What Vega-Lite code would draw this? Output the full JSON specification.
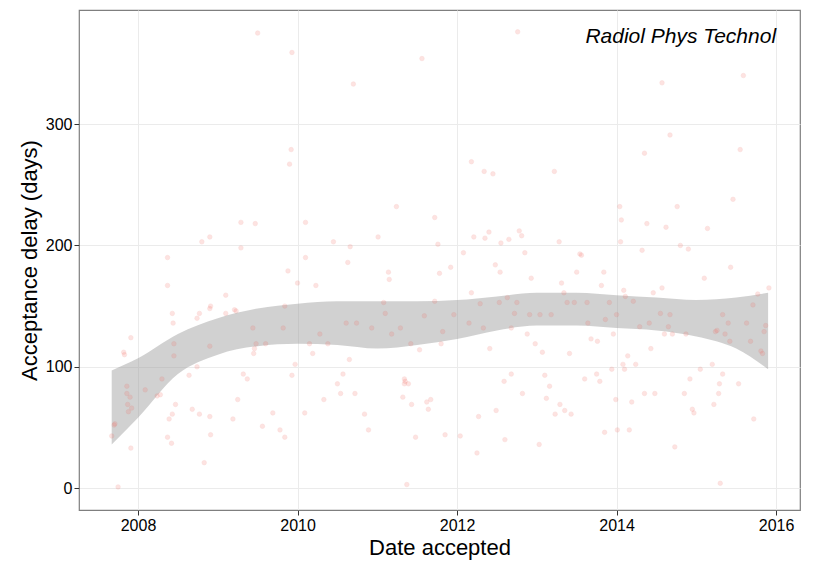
{
  "$schema": "https://vega.github.io/schema/vega-lite/v6.json",
  "autosize": {"type": "fit", "contains": "padding"},
  "width": 825,
  "height": 570,
  "padding": {"left": 18, "top": 10, "right": 25, "bottom": 12},
  "background": "white",
  "config": {
    "font": "Liberation Sans",
    "view": {"stroke": "#7f7f7f", "strokeWidth": 1.2},
    "axis": {
      "grid": true, "gridColor": "#ebebeb", "domain": false,
      "tickColor": "#333333", "tickSize": 5,
      "labelFontSize": 16, "labelColor": "#000000",
      "titleFontSize": 22, "titleFontWeight": "normal", "titleColor": "#000000"
    }
  },
  "layer": [
    {
      "data": {"values": [
        {"d": 2007.67, "lo": 36, "hi": 97},
        {"d": 2008.0, "lo": 58, "hi": 107},
        {"d": 2008.5, "lo": 94, "hi": 127},
        {"d": 2009.0, "lo": 110, "hi": 140},
        {"d": 2009.5, "lo": 117, "hi": 148},
        {"d": 2010.0, "lo": 119, "hi": 152},
        {"d": 2010.5, "lo": 118, "hi": 154},
        {"d": 2011.0, "lo": 115, "hi": 154},
        {"d": 2011.5, "lo": 118, "hi": 154},
        {"d": 2012.0, "lo": 123, "hi": 155},
        {"d": 2012.5, "lo": 130, "hi": 158},
        {"d": 2013.0, "lo": 134, "hi": 161},
        {"d": 2013.5, "lo": 134, "hi": 161},
        {"d": 2014.0, "lo": 132, "hi": 159},
        {"d": 2014.5, "lo": 130, "hi": 157},
        {"d": 2015.0, "lo": 125, "hi": 155},
        {"d": 2015.5, "lo": 115, "hi": 157},
        {"d": 2015.9, "lo": 98, "hi": 161}
      ]},
      "mark": {"type": "area", "color": "#999999", "opacity": 0.45, "interpolate": "monotone"},
      "encoding": {
        "x": {"field": "d", "type": "quantitative", "scale": {"domain": [2007.26, 2016.3], "nice": false, "zero": false},
          "title": "Date accepted", "axis": {"values": [2008, 2010, 2012, 2014, 2016], "format": "d"}},
        "y": {"field": "lo", "type": "quantitative", "scale": {"domain": [-18, 394], "nice": false},
          "title": "Acceptance delay (days)", "axis": {"values": [0, 100, 200, 300]}},
        "y2": {"field": "hi"}
      }
    },
    {
      "data": {"values": [
        {"d":2007.67,"v":43},{"d":2007.7,"v":52},{"d":2007.71,"v":53},{"d":2007.75,"v":1},{"d":2007.82,"v":112},{"d":2007.83,"v":110},{"d":2007.86,"v":84},{"d":2007.86,"v":78},{"d":2007.87,"v":69},{"d":2007.88,"v":63},{"d":2007.9,"v":75},{"d":2007.92,"v":66},{"d":2007.91,"v":124},{"d":2007.91,"v":33},
        {"d":2008.09,"v":81},{"d":2008.24,"v":76},{"d":2008.28,"v":77},{"d":2008.3,"v":90},{"d":2008.37,"v":42},{"d":2008.37,"v":190},{"d":2008.37,"v":167},{"d":2008.42,"v":37},{"d":2008.39,"v":57},{"d":2008.43,"v":61},{"d":2008.43,"v":144},{"d":2008.44,"v":136},{"d":2008.45,"v":119},{"d":2008.45,"v":109},{"d":2008.47,"v":69},
        {"d":2008.68,"v":65},{"d":2008.64,"v":93},{"d":2008.74,"v":140},{"d":2008.77,"v":61},{"d":2008.77,"v":144},{"d":2008.8,"v":203},{"d":2008.83,"v":21},{"d":2008.74,"v":100},{"d":2008.9,"v":117},{"d":2008.9,"v":148},{"d":2008.91,"v":150},{"d":2008.9,"v":207},{"d":2008.9,"v":59},{"d":2008.91,"v":44},
        {"d":2009.1,"v":144},{"d":2009.1,"v":159},{"d":2009.19,"v":57},{"d":2009.21,"v":147},{"d":2009.23,"v":146},{"d":2009.25,"v":73},{"d":2009.29,"v":219},{"d":2009.29,"v":198},{"d":2009.32,"v":94},{"d":2009.37,"v":90},{"d":2009.44,"v":132},{"d":2009.45,"v":111},{"d":2009.46,"v":115},{"d":2009.48,"v":119},{"d":2009.47,"v":218},{"d":2009.5,"v":375},
        {"d":2009.56,"v":51},{"d":2009.6,"v":119},{"d":2009.69,"v":62},{"d":2009.78,"v":48},{"d":2009.82,"v":132},{"d":2009.84,"v":150},{"d":2009.84,"v":42},{"d":2009.88,"v":179},{"d":2009.9,"v":267},{"d":2009.92,"v":279},{"d":2009.93,"v":359},{"d":2009.97,"v":102},{"d":2009.93,"v":93},{"d":2010.0,"v":169},
        {"d":2010.09,"v":62},{"d":2010.1,"v":219},{"d":2010.1,"v":190},{"d":2010.15,"v":119},{"d":2010.19,"v":111},{"d":2010.23,"v":167},{"d":2010.28,"v":127},{"d":2010.33,"v":73},{"d":2010.38,"v":119},{"d":2010.45,"v":203},{"d":2010.5,"v":86},{"d":2010.54,"v":78},{"d":2010.57,"v":94},{"d":2010.61,"v":136},{"d":2010.63,"v":186},{"d":2010.66,"v":199},{"d":2010.65,"v":106},{"d":2010.7,"v":333},{"d":2010.72,"v":78},{"d":2010.74,"v":136},
        {"d":2010.84,"v":61},{"d":2010.89,"v":48},{"d":2010.93,"v":132},{"d":2011.01,"v":207},{"d":2011.08,"v":153},{"d":2011.1,"v":144},{"d":2011.14,"v":178},{"d":2011.15,"v":172},{"d":2011.18,"v":127},{"d":2011.24,"v":232},{"d":2011.29,"v":132},{"d":2011.32,"v":75},{"d":2011.34,"v":90},{"d":2011.34,"v":86},{"d":2011.35,"v":88},{"d":2011.37,"v":3},{"d":2011.39,"v":86},{"d":2011.42,"v":119},{"d":2011.43,"v":69},{"d":2011.48,"v":42},
        {"d":2011.53,"v":114},{"d":2011.56,"v":354},{"d":2011.59,"v":142},{"d":2011.62,"v":71},{"d":2011.64,"v":65},{"d":2011.67,"v":73},{"d":2011.72,"v":154},{"d":2011.72,"v":223},{"d":2011.76,"v":201},{"d":2011.78,"v":177},{"d":2011.8,"v":119},{"d":2011.82,"v":129},{"d":2011.85,"v":44},{"d":2011.92,"v":182},{"d":2011.96,"v":143},
        {"d":2012.04,"v":43},{"d":2012.08,"v":194},{"d":2012.15,"v":136},{"d":2012.18,"v":161},{"d":2012.18,"v":269},{"d":2012.21,"v":207},{"d":2012.25,"v":29},{"d":2012.27,"v":59},{"d":2012.29,"v":152},{"d":2012.33,"v":132},{"d":2012.34,"v":261},{"d":2012.35,"v":206},{"d":2012.4,"v":211},{"d":2012.41,"v":115},{"d":2012.45,"v":259},{"d":2012.48,"v":184},{"d":2012.49,"v":64},
        {"d":2012.53,"v":153},{"d":2012.54,"v":178},{"d":2012.55,"v":202},{"d":2012.59,"v":88},{"d":2012.6,"v":40},{"d":2012.63,"v":157},{"d":2012.65,"v":205},{"d":2012.68,"v":94},{"d":2012.68,"v":132},{"d":2012.72,"v":144},{"d":2012.75,"v":153},{"d":2012.76,"v":376},{"d":2012.78,"v":212},{"d":2012.81,"v":208},{"d":2012.82,"v":78},{"d":2012.85,"v":194},{"d":2012.88,"v":127},{"d":2012.91,"v":143},{"d":2012.93,"v":173},{"d":2012.98,"v":119},
        {"d":2013.03,"v":36},{"d":2013.04,"v":143},{"d":2013.07,"v":112},{"d":2013.1,"v":93},{"d":2013.12,"v":74},{"d":2013.16,"v":84},{"d":2013.18,"v":143},{"d":2013.22,"v":261},{"d":2013.23,"v":61},{"d":2013.28,"v":203},{"d":2013.29,"v":69},{"d":2013.31,"v":169},{"d":2013.34,"v":161},{"d":2013.35,"v":64},{"d":2013.38,"v":153},{"d":2013.41,"v":111},{"d":2013.43,"v":61},{"d":2013.47,"v":153},{"d":2013.5,"v":178},{"d":2013.54,"v":193},{"d":2013.56,"v":192},
        {"d":2013.6,"v":90},{"d":2013.63,"v":153},{"d":2013.64,"v":136},{"d":2013.68,"v":123},{"d":2013.75,"v":94},{"d":2013.76,"v":121},{"d":2013.79,"v":88},{"d":2013.81,"v":167},{"d":2013.84,"v":178},{"d":2013.85,"v":46},{"d":2013.86,"v":139},{"d":2013.91,"v":153},{"d":2013.94,"v":98},{"d":2013.96,"v":127},{"d":2013.99,"v":73},{"d":2014.0,"v":143},{"d":2014.01,"v":48},
        {"d":2014.04,"v":232},{"d":2014.05,"v":203},{"d":2014.06,"v":221},{"d":2014.08,"v":102},{"d":2014.09,"v":163},{"d":2014.1,"v":98},{"d":2014.11,"v":158},{"d":2014.14,"v":109},{"d":2014.16,"v":48},{"d":2014.19,"v":71},{"d":2014.21,"v":154},{"d":2014.24,"v":102},{"d":2014.29,"v":133},{"d":2014.32,"v":196},{"d":2014.35,"v":276},{"d":2014.35,"v":78},{"d":2014.38,"v":218},{"d":2014.41,"v":136},{"d":2014.43,"v":115},{"d":2014.46,"v":161},{"d":2014.48,"v":78},
        {"d":2014.55,"v":144},{"d":2014.57,"v":334},{"d":2014.57,"v":165},{"d":2014.6,"v":127},{"d":2014.62,"v":215},{"d":2014.65,"v":133},{"d":2014.67,"v":291},{"d":2014.67,"v":143},{"d":2014.7,"v":127},{"d":2014.73,"v":34},{"d":2014.76,"v":232},{"d":2014.8,"v":200},{"d":2014.85,"v":78},{"d":2014.87,"v":127},{"d":2014.9,"v":197},{"d":2014.92,"v":90},{"d":2014.95,"v":65},{"d":2014.97,"v":62},
        {"d":2015.05,"v":98},{"d":2015.1,"v":173},{"d":2015.14,"v":214},{"d":2015.2,"v":102},{"d":2015.22,"v":69},{"d":2015.24,"v":129},{"d":2015.26,"v":130},{"d":2015.28,"v":78},{"d":2015.29,"v":86},{"d":2015.3,"v":4},{"d":2015.33,"v":94},{"d":2015.33,"v":143},{"d":2015.36,"v":127},{"d":2015.4,"v":136},{"d":2015.42,"v":121},{"d":2015.43,"v":182},{"d":2015.46,"v":238},
        {"d":2015.53,"v":86},{"d":2015.55,"v":279},{"d":2015.59,"v":340},{"d":2015.63,"v":136},{"d":2015.68,"v":121},{"d":2015.71,"v":151},{"d":2015.72,"v":57},{"d":2015.77,"v":160},{"d":2015.81,"v":113},{"d":2015.83,"v":111},{"d":2015.85,"v":129},{"d":2015.87,"v":134},{"d":2015.91,"v":165}
      ]},
      "mark": {"type": "point", "shape": "circle", "filled": true, "size": 20, "color": "#f8766d", "opacity": 0.2, "stroke": "#e8463a", "strokeWidth": 1, "strokeOpacity": 0.55},
      "encoding": {
        "x": {"field": "d", "type": "quantitative"},
        "y": {"field": "v", "type": "quantitative"}
      }
    },
    {
      "data": {"values": [{"d": 2016.0, "v": 372, "label": "Radiol Phys Technol"}]},
      "mark": {"type": "text", "align": "right", "baseline": "middle", "fontSize": 21, "fontStyle": "italic", "color": "#000000"},
      "encoding": {
        "x": {"field": "d", "type": "quantitative"},
        "y": {"field": "v", "type": "quantitative"},
        "text": {"field": "label"}
      }
    }
  ]
}
